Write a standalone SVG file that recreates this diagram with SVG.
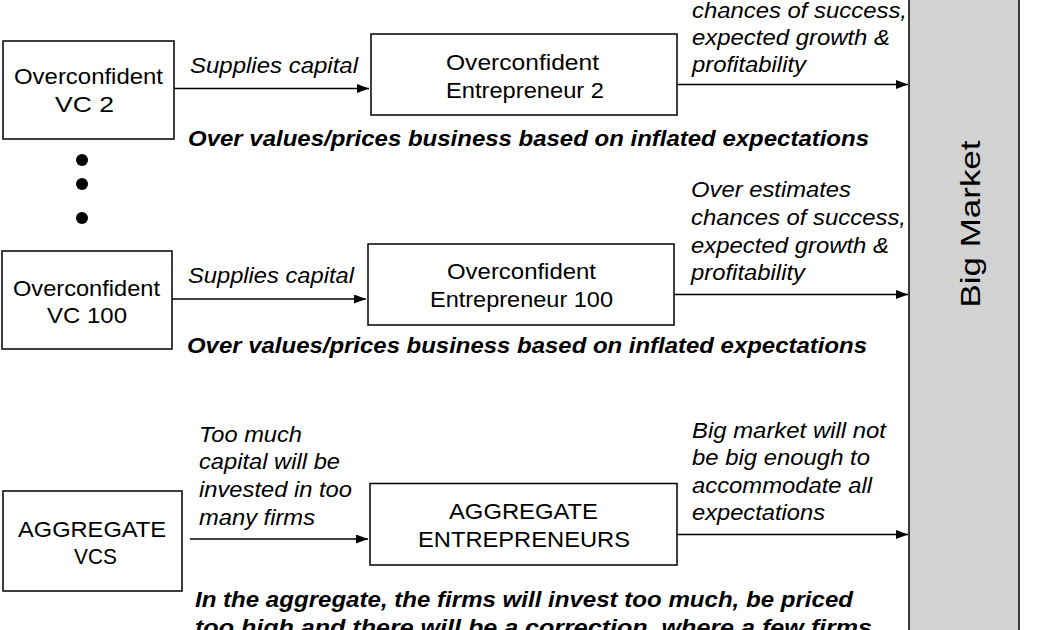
<svg xmlns="http://www.w3.org/2000/svg" width="1040" height="630" viewBox="0 0 1040 630">
<defs>
<style>
.box{fill:#fff;stroke:#000;stroke-width:1.5}
.mkt{fill:#d2d2d2;stroke:#000;stroke-width:1.5}
.t{font-family:"Liberation Sans",Arial,sans-serif;font-size:22px;fill:#000}
.i{font-family:"Liberation Sans",Arial,sans-serif;font-size:22px;font-style:italic;fill:#000}
.b{font-family:"Liberation Sans",Arial,sans-serif;font-size:22px;font-style:italic;font-weight:bold;fill:#000}
.c{stroke:#000;stroke-width:1.5;fill:none;marker-end:url(#ah)}
</style>
<marker id="ah" markerUnits="userSpaceOnUse" markerWidth="13" markerHeight="10" refX="12" refY="4.5" orient="auto">
<path d="M0,0 L12,4.5 L0,9 z" fill="#000"/>
</marker>
</defs>
<rect width="1040" height="630" fill="#fff"/>

<g id="big-market">
<rect class="mkt" x="909" y="-5" width="110" height="645"/>
<text class="t" style="font-size:28px" transform="translate(980,224) rotate(-90)" text-anchor="middle" textLength="167" lengthAdjust="spacingAndGlyphs">Big Market</text>
</g>

<g id="vc2">
<rect class="box" x="3" y="41" width="171" height="98"/>
<text class="t" x="14" y="84" textLength="149" lengthAdjust="spacingAndGlyphs">Overconfident</text>
<text class="t" x="55" y="112" textLength="59" lengthAdjust="spacingAndGlyphs">VC 2</text>
</g>

<g id="ent2">
<rect class="box" x="371" y="34" width="306" height="81"/>
<text class="t" x="446" y="69.5" textLength="153" lengthAdjust="spacingAndGlyphs">Overconfident</text>
<text class="t" x="446" y="98" textLength="158" lengthAdjust="spacingAndGlyphs">Entrepreneur 2</text>
</g>

<g id="dots">
<circle cx="82" cy="160" r="6" fill="#000"/>
<circle cx="82" cy="184" r="6" fill="#000"/>
<circle cx="82" cy="218" r="6" fill="#000"/>
</g>

<g id="vc100">
<rect class="box" x="2" y="251" width="170" height="98"/>
<text class="t" x="13" y="295.5" textLength="147" lengthAdjust="spacingAndGlyphs">Overconfident</text>
<text class="t" x="47" y="323" textLength="80" lengthAdjust="spacingAndGlyphs">VC 100</text>
</g>

<g id="ent100">
<rect class="box" x="368" y="244" width="306" height="81"/>
<text class="t" x="447" y="279.3" textLength="149" lengthAdjust="spacingAndGlyphs">Overconfident</text>
<text class="t" x="430" y="306.7" textLength="183" lengthAdjust="spacingAndGlyphs">Entrepreneur 100</text>
</g>

<g id="agg-vcs">
<rect class="box" x="3" y="491" width="179" height="100"/>
<text class="t" x="18" y="536.7" textLength="148" lengthAdjust="spacingAndGlyphs">AGGREGATE</text>
<text class="t" x="74" y="564" textLength="43" lengthAdjust="spacingAndGlyphs">VCS</text>
</g>

<g id="agg-ent">
<rect class="box" x="370" y="483.5" width="307" height="81.5"/>
<text class="t" x="449" y="519" textLength="149" lengthAdjust="spacingAndGlyphs">AGGREGATE</text>
<text class="t" x="418" y="547" textLength="212" lengthAdjust="spacingAndGlyphs">ENTREPRENEURS</text>
</g>

<g id="connectors">
<line class="c" x1="174" y1="88.5" x2="369" y2="88.5"/>
<line class="c" x1="677" y1="84.5" x2="908" y2="84.5"/>
<line class="c" x1="172" y1="299" x2="366" y2="299"/>
<line class="c" x1="674" y1="294.5" x2="908" y2="294.5"/>
<line class="c" x1="190" y1="539" x2="368" y2="539"/>
<line class="c" x1="677" y1="534.5" x2="908" y2="534.5"/>
</g>

<g id="labels">
<text class="i" x="190" y="73" textLength="168" lengthAdjust="spacingAndGlyphs">Supplies capital</text>
<text class="i" x="692" y="18" textLength="215" lengthAdjust="spacingAndGlyphs">chances of success,</text>
<text class="i" x="692" y="45" textLength="198" lengthAdjust="spacingAndGlyphs">expected growth &amp;</text>
<text class="i" x="692" y="72" textLength="114" lengthAdjust="spacingAndGlyphs">profitability</text>
<text class="b" x="188" y="146" textLength="681" lengthAdjust="spacingAndGlyphs">Over values/prices business based on inflated expectations</text>

<text class="i" x="188" y="283" textLength="166" lengthAdjust="spacingAndGlyphs">Supplies capital</text>
<text class="i" x="691" y="197" textLength="160" lengthAdjust="spacingAndGlyphs">Over estimates</text>
<text class="i" x="691" y="225" textLength="215" lengthAdjust="spacingAndGlyphs">chances of success,</text>
<text class="i" x="691" y="252.7" textLength="198" lengthAdjust="spacingAndGlyphs">expected growth &amp;</text>
<text class="i" x="691" y="280" textLength="114" lengthAdjust="spacingAndGlyphs">profitability</text>
<text class="b" x="187" y="353" textLength="680" lengthAdjust="spacingAndGlyphs">Over values/prices business based on inflated expectations</text>

<text class="i" x="199" y="441.7" textLength="103" lengthAdjust="spacingAndGlyphs">Too much</text>
<text class="i" x="199" y="469.3" textLength="141" lengthAdjust="spacingAndGlyphs">capital will be</text>
<text class="i" x="199" y="497" textLength="153" lengthAdjust="spacingAndGlyphs">invested in too</text>
<text class="i" x="199" y="525" textLength="116" lengthAdjust="spacingAndGlyphs">many firms</text>
<text class="i" x="692" y="437.5" textLength="194" lengthAdjust="spacingAndGlyphs">Big market will not</text>
<text class="i" x="692" y="465" textLength="178" lengthAdjust="spacingAndGlyphs">be big enough to</text>
<text class="i" x="692" y="492.7" textLength="180" lengthAdjust="spacingAndGlyphs">accommodate all</text>
<text class="i" x="692" y="519.5" textLength="133" lengthAdjust="spacingAndGlyphs">expectations</text>
<text class="b" x="195" y="607" textLength="658" lengthAdjust="spacingAndGlyphs">In the aggregate, the firms will invest too much, be priced</text>
<text class="b" x="195" y="635" textLength="677" lengthAdjust="spacingAndGlyphs">too high and there will be a correction, where a few firms</text>
</g>
</svg>
